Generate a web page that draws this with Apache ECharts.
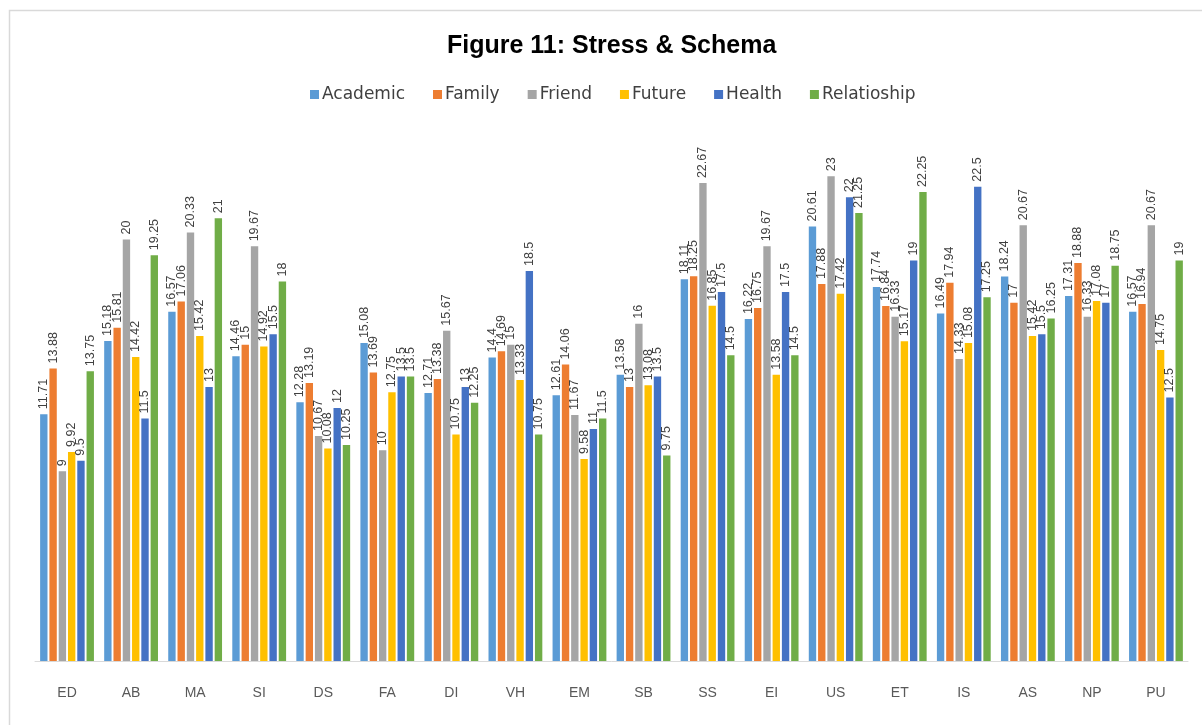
<!DOCTYPE html>
<html>
<head>
<meta charset="utf-8">
<title>Figure 11: Stress & Schema</title>
<script src="https://cdn.jsdelivr.net/npm/echarts@6/dist/echarts.min.js"></script>
<style>
  html, body { margin: 0; padding: 0; background: #fff; }
  #chart { width: 1202px; height: 725px; }
</style>
</head>
<body>
<div id="chart"></div>
<script>
// categories (schema)
const categories = ['ED', 'AB', 'MA', 'SI', 'DS', 'FA', 'DI', 'VH', 'EM', 'SB', 'SS', 'EI', 'US', 'ET', 'IS', 'AS', 'NP', 'PU'];

// stress series
const academic     = [11.71, 15.18, 16.57, 14.46, 12.28, 15.08, 12.71, 14.4, 12.61, 13.58, 18.11, 16.22, 20.61, 17.74, 16.49, 18.24, 17.31, 16.57];
const family       = [13.88, 15.81, 17.06, 15, 13.19, 13.69, 13.38, 14.69, 14.06, 13, 18.25, 16.75, 17.88, 16.84, 17.94, 17, 18.88, 16.94];
const friend       = [9, 20, 20.33, 19.67, 10.67, 10, 15.67, 15, 11.67, 16, 22.67, 19.67, 23, 16.33, 14.33, 20.67, 16.33, 20.67];
const future       = [9.92, 14.42, 15.42, 14.92, 10.08, 12.75, 10.75, 13.33, 9.58, 13.08, 16.85, 13.58, 17.42, 15.17, 15.08, 15.42, 17.08, 14.75];
const health       = [9.5, 11.5, 13, 15.5, 12, 13.5, 13, 18.5, 11, 13.5, 17.5, 17.5, 22, 19, 22.5, 15.5, 17, 12.5];
const relationship = [13.75, 19.25, 21, 18, 10.25, 13.5, 12.25, 10.75, 11.5, 9.75, 14.5, 14.5, 21.25, 22.25, 17.25, 16.25, 18.75, 19];

const seriesNames = ['Academic', 'Family', 'Friend', 'Future', 'Health', 'Relatioship'];
const seriesData = [academic, family, friend, future, health, relationship];
const colors = ['#5B9BD5', '#ED7D31', '#A5A5A5', '#FFC000', '#4472C4', '#70AD47'];

const chart = echarts.init(document.getElementById('chart'));

const option = {
  animation: false,
  color: colors,
  textStyle: { fontFamily: 'Liberation Sans, Arial, sans-serif' },
  title: {
    text: 'Figure 11: Stress & Schema',
    left: 442,
    top: 29,
    textStyle: { fontSize: 25, fontWeight: 'bold', color: '#000', fontFamily: 'Liberation Sans' }
  },
  legend: {
    data: seriesNames,
    top: 81,
    left: 305,
    icon: 'rect',
    itemWidth: 9,
    itemHeight: 9,
    itemGap: 28,
    textStyle: { fontSize: 17, color: '#404040', fontFamily: 'DejaVu Sans', padding: [0, 0, 0, -2] }
  },
  graphic: [{
    type: 'rect',
    shape: { x: 9.5, y: 10.5, width: 1200, height: 720 },
    style: { fill: 'none', stroke: '#D9D9D9', lineWidth: 1.5 },
    silent: true
  }],
  grid: { left: 35, right: 14, top: 134, bottom: 64 },
  xAxis: {
    type: 'category',
    data: categories,
    axisLine: { lineStyle: { color: '#D9D9D9', width: 1 } },
    axisTick: { show: false },
    axisLabel: { color: '#595959', fontSize: 14, margin: 25 }
  },
  yAxis: {
    type: 'value',
    min: 0,
    max: 25,
    show: false,
    splitLine: { show: false }
  },
  series: seriesNames.map((name, i) => ({
    name: name,
    type: 'bar',
    data: seriesData[i],
    barGap: '26%',
    barCategoryGap: '16%',
    label: {
      show: true,
      position: 'top',
      rotate: 90,
      align: 'left',
      verticalAlign: 'middle',
      distance: 5,
      fontSize: 12.5,
      color: '#404040'
    }
  }))
};

chart.setOption(option);
</script>
</body>
</html>
